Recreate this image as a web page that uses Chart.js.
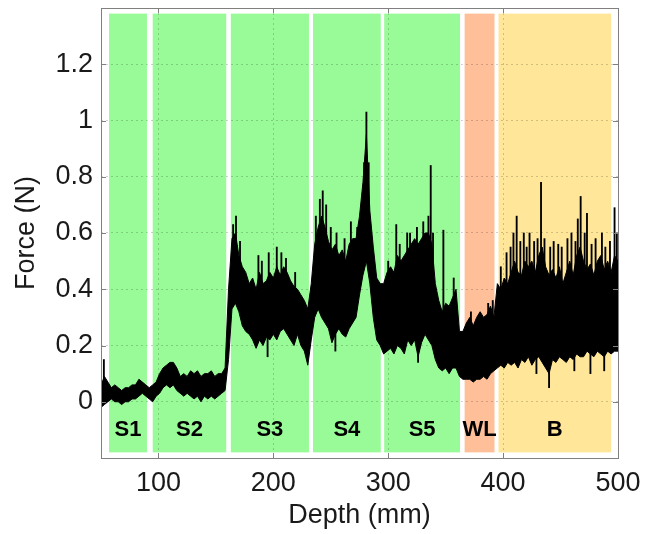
<!DOCTYPE html>
<html>
<head>
<meta charset="utf-8">
<script src="https://cdn.jsdelivr.net/npm/chart.js@4.4.1/dist/chart.umd.min.js"></script>
<style>
html,body{margin:0;padding:0;background:#fff}
</style>
</head>
<body>
<canvas id="c" width="645" height="534"></canvas>
<script>
// depth samples (mm) and force envelope of the dense trace (N)
const depth=[50,53,56,59,62,65,68,71,74,77,80,83,86,89,92,95,98,101,104,107,110,113,116,119,122,125,128,131,134,137,140,143,146,149,152,155,158,161,164,167,170,173,176,179,182,185,188,191,194,197,200,203,206,209,212,215,218,221,224,227,230,233,236,239,242,245,248,251,254,257,260,263,266,269,272,275,278,281,284,287,290,293,296,299,302,305,308,311,314,317,320,323,326,329,332,335,338,341,344,347,350,353,356,359,362,365,368,371,374,377,380,383,386,389,392,395,398,401,404,407,410,413,416,419,422,425,428,431,434,437,440,443,446,449,452,455,458,461,464,467,470,473,476,479,482,485,488,491,494,497,500];

const forceMax=[0.06,0.09,0.07,0.05,0.06,0.05,0.04,0.05,0.05,0.06,
0.06,0.08,0.07,0.06,0.05,0.06,0.07,0.10,0.12,0.13,
0.14,0.14,0.12,0.09,0.10,0.09,0.11,0.10,0.11,0.09,
0.10,0.10,0.11,0.09,0.10,0.10,0.12,0.40,0.58,0.60,
0.52,0.48,0.46,0.42,0.44,0.40,0.46,0.42,0.43,0.46,
0.44,0.48,0.45,0.48,0.46,0.43,0.41,0.40,0.38,0.36,
0.33,0.42,0.56,0.62,0.66,0.62,0.57,0.54,0.56,0.52,
0.54,0.50,0.56,0.58,0.58,0.66,0.78,0.95,0.68,0.55,
0.44,0.42,0.42,0.46,0.48,0.46,0.52,0.50,0.52,0.54,
0.56,0.58,0.56,0.58,0.60,0.60,0.56,0.42,0.36,0.32,
0.35,0.34,0.37,0.40,0.25,0.25,0.28,0.30,0.27,0.30,
0.32,0.30,0.31,0.34,0.30,0.42,0.40,0.44,0.42,0.46,
0.50,0.46,0.45,0.50,0.48,0.50,0.46,0.52,0.55,0.48,
0.45,0.47,0.44,0.48,0.42,0.46,0.50,0.45,0.52,0.55,
0.50,0.47,0.49,0.45,0.50,0.52,0.47,0.50,0.46,0.52,
0.50];

const forceMin=[-0.02,-0.01,0.00,0.01,0.00,0.00,-0.01,0.00,0.00,0.01,
0.01,0.02,0.03,0.02,0.01,0.00,0.02,0.03,0.05,0.06,
0.05,0.06,0.04,0.03,0.02,0.03,0.02,0.01,0.02,0.00,
0.02,0.01,0.02,0.01,0.02,0.03,0.04,0.15,0.33,0.35,
0.32,0.27,0.25,0.24,0.22,0.19,0.22,0.20,0.23,0.22,
0.24,0.22,0.25,0.26,0.24,0.22,0.20,0.24,0.20,0.18,
0.13,0.22,0.30,0.33,0.30,0.28,0.26,0.21,0.24,0.26,
0.24,0.23,0.26,0.28,0.30,0.38,0.45,0.50,0.42,0.30,
0.22,0.20,0.17,0.18,0.19,0.17,0.20,0.19,0.17,0.22,
0.20,0.22,0.16,0.21,0.24,0.22,0.20,0.15,0.12,0.11,
0.12,0.10,0.12,0.12,0.09,0.08,0.08,0.08,0.07,0.08,
0.08,0.09,0.08,0.10,0.11,0.12,0.13,0.12,0.14,0.13,
0.14,0.12,0.15,0.14,0.16,0.13,0.15,0.16,0.14,0.12,
0.10,0.15,0.14,0.16,0.15,0.14,0.16,0.15,0.17,0.16,
0.16,0.18,0.17,0.16,0.18,0.17,0.16,0.18,0.17,0.18,
0.18];

// isolated hairline peaks and dips of the trace
const spikeDepth=[52.5,165,167.5,171,187,190,196,203,207,211,219,237,240.5,243,246,250,255,262,267.5,273,279,281,283,300,307,310,316.5,319,325,330.5,335,337,339,348,357,372,387,391,398,403,406.5,409,411.8,415,418,420.5,423,427,430,433,436,441,444,448,451,456,459.5,463,465,467.5,471,473,477,480.5,486,489,493,497,499,195,254,326,429,440,462,476,488];
const spikeLow=[0.03,0.4,0.4,0.4,0.3,0.3,0.3,0.3,0.3,0.3,0.3,0.4,0.4,0.4,0.4,0.4,0.4,0.4,0.4,0.4,0.5,0.5,0.5,0.3,0.3,0.3,0.3,0.3,0.3,0.3,0.3,0.3,0.3,0.2,0.2,0.15,0.15,0.15,0.25,0.25,0.25,0.25,0.25,0.25,0.25,0.25,0.25,0.25,0.25,0.25,0.25,0.25,0.25,0.25,0.25,0.25,0.25,0.25,0.25,0.25,0.25,0.25,0.25,0.25,0.25,0.25,0.25,0.25,0.25,0.16,0.18,0.14,0.10,0.05,0.11,0.10,0.11];
const spikeHigh=[0.15,0.63,0.66,0.57,0.52,0.50,0.53,0.55,0.53,0.51,0.46,0.66,0.72,0.75,0.70,0.62,0.60,0.58,0.64,0.62,0.85,1.03,0.85,0.50,0.63,0.56,0.60,0.60,0.62,0.64,0.66,0.84,0.60,0.61,0.44,0.32,0.35,0.36,0.48,0.53,0.55,0.60,0.66,0.57,0.60,0.55,0.60,0.57,0.58,0.78,0.58,0.55,0.57,0.56,0.55,0.58,0.60,0.57,0.65,0.73,0.60,0.67,0.56,0.58,0.60,0.55,0.57,0.69,0.60,0.30,0.30,0.30,0.25,0.25,0.25,0.25,0.25];

// layers (mm)
const layerNames=["S1","S2","S3","S4","S5","WL","B"];
const layerFrom=[57,95,163,234.5,296.5,366.5,396];
const layerTo=[90,159,231,293.5,362.5,392.5,494];
const layerColors=["#98fb98","#98fb98","#98fb98","#98fb98","#98fb98","#ffbf98","#ffe698"];

const xTicks=[100,200,300,400,500];
const yTicks=[0,0.2,0.4,0.6,0.8,1,1.2];

const FONT="'Liberation Sans', Arial, sans-serif";
const BOX="#808080";

const layersPlugin={
id:"layers",
beforeDraw(chart){
const ctx=chart.ctx, x=chart.scales.x, y=chart.scales.y;
const yTop=y.getPixelForValue(1.38), yBot=y.getPixelForValue(-0.18);
ctx.save();
for(let i=0;i<layerNames.length;i++){
const a=x.getPixelForValue(layerFrom[i]), b=x.getPixelForValue(layerTo[i]);
ctx.fillStyle=layerColors[i];
ctx.fillRect(a,yTop,b-a,yBot-yTop);
}
ctx.restore();
},
afterDatasetsDraw(chart){
const ctx=chart.ctx, x=chart.scales.x, y=chart.scales.y;
ctx.save();
ctx.fillStyle="#000";
ctx.font="bold 22px "+FONT;
ctx.textAlign="center";
ctx.textBaseline="middle";
for(let i=0;i<layerNames.length;i++){
const cx=x.getPixelForValue((layerFrom[i]+layerTo[i])/2);
ctx.fillText(layerNames[i],cx,y.getPixelForValue(-0.1));
}
ctx.restore();
},
afterDraw(chart){
const ctx=chart.ctx, a=chart.chartArea, x=chart.scales.x, y=chart.scales.y;
ctx.save();
ctx.strokeStyle=BOX;
ctx.lineWidth=1;
ctx.strokeRect(Math.round(a.left)+0.5,Math.round(a.top)+0.5,Math.round(a.right-a.left),Math.round(a.bottom-a.top));
ctx.beginPath();
xTicks.forEach(v=>{
const px=Math.round(x.getPixelForValue(v))+0.5;
ctx.moveTo(px,a.bottom);ctx.lineTo(px,a.bottom-5);
ctx.moveTo(px,a.top);ctx.lineTo(px,a.top+5);
});
yTicks.forEach(v=>{
const py=Math.round(y.getPixelForValue(v))+0.5;
ctx.moveTo(a.left,py);ctx.lineTo(a.left+5,py);
ctx.moveTo(a.right,py);ctx.lineTo(a.right-5,py);
});
ctx.stroke();
ctx.restore();
}
};

new Chart(document.getElementById("c"),{
type:"line",
data:{
datasets:[
{label:"max",data:depth.map((d,i)=>({x:d,y:forceMax[i]})),borderColor:"#000",backgroundColor:"#000",borderWidth:1,pointRadius:0,tension:0,fill:"+1",order:2},
{label:"min",data:depth.map((d,i)=>({x:d,y:forceMin[i]})),borderColor:"#000",backgroundColor:"#000",borderWidth:1,pointRadius:0,tension:0,fill:false,order:2},
{type:"bar",label:"spikes",data:spikeDepth.map((d,i)=>({x:d,y:[spikeLow[i],spikeHigh[i]]})),backgroundColor:"#000",borderWidth:0,barThickness:1.2,grouped:false,order:1}
]
},
options:{
responsive:false,
animation:false,
devicePixelRatio:1,
layout:{padding:{top:8,right:27,left:0,bottom:0}},
plugins:{legend:{display:false},tooltip:{enabled:false}},
scales:{
x:{
type:"linear",min:50,max:500,offset:false,
afterBuildTicks:s=>{s.ticks=xTicks.map(v=>({value:v}));},
afterFit:s=>{s.height=76;s.paddingLeft=0;s.paddingRight=0;},
grid:{color:"rgba(0,0,0,0.18)",drawTicks:false,offset:false},
border:{display:false,dash:[2,3]},
ticks:{color:"#1a1a1a",font:{family:FONT,size:27},padding:9,maxRotation:0},
title:{display:true,text:"Depth (mm)",color:"#1a1a1a",font:{family:FONT,size:27},padding:{top:0,bottom:2}}
},
y:{
min:-0.2,max:1.4,
afterBuildTicks:s=>{s.ticks=yTicks.map(v=>({value:v}));},
afterFit:s=>{s.width=101;s.paddingTop=0;s.paddingBottom=0;},
grid:{color:"rgba(0,0,0,0.18)",drawTicks:false},
border:{display:false,dash:[2,3]},
ticks:{color:"#1a1a1a",font:{family:FONT,size:27},padding:8,callback:v=>String(Math.round(v*10)/10)},
title:{display:true,text:"Force (N)",color:"#1a1a1a",font:{family:FONT,size:27},padding:{top:10,bottom:0}}
}
}
},
plugins:[layersPlugin]
});
</script>
</body>
</html>
